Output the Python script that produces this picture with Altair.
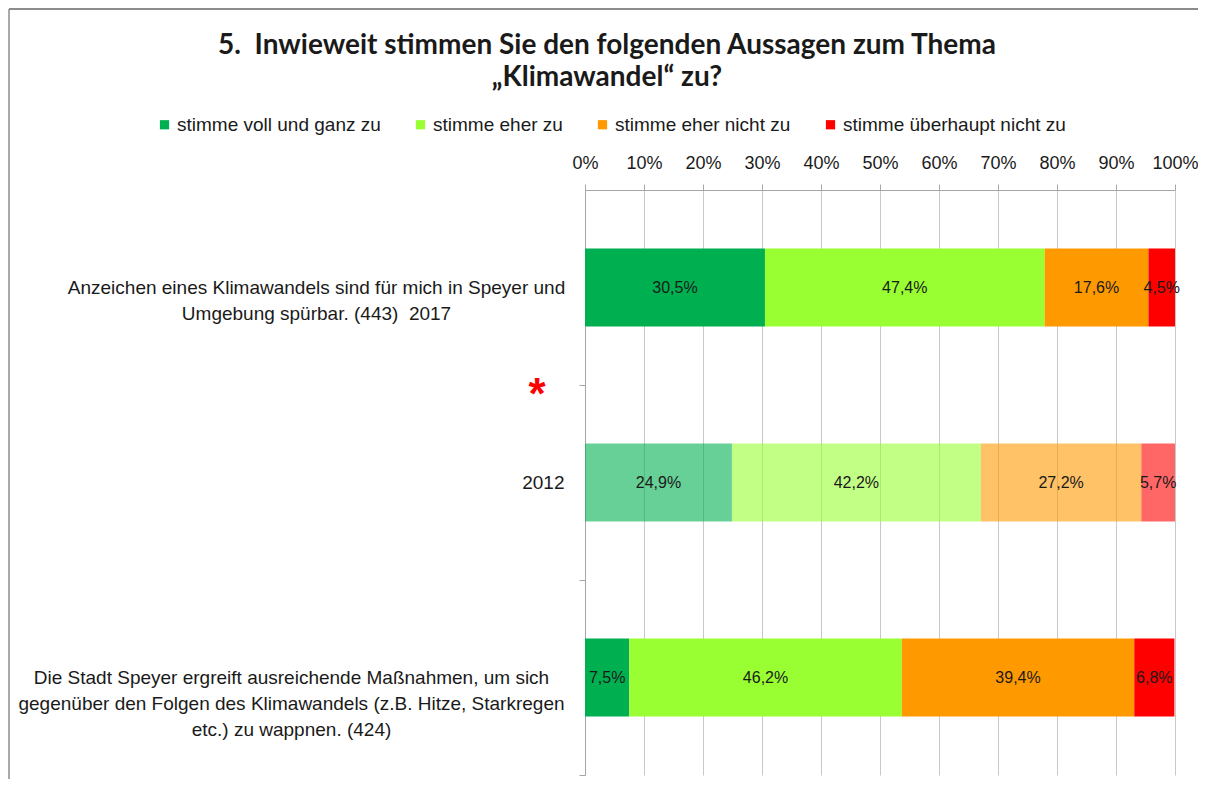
import altair as alt
import pandas as pd

title_lines = ["5.\u00a0 Inwieweit stimmen Sie den folgenden Aussagen zum Thema", "„Klimawandel“ zu?"]
categories = [
    "Anzeichen eines Klimawandels sind für mich in Speyer und\nUmgebung spürbar. (443)\u00a0 2017",
    "2012",
    "Die Stadt Speyer ergreift ausreichende Maßnahmen, um sich\ngegenüber den Folgen des Klimawandels (z.B. Hitze, Starkregen\netc.) zu wappnen. (424)",
]
series = [
    "stimme voll und ganz zu",
    "stimme eher zu",
    "stimme eher nicht zu",
    "stimme überhaupt nicht zu",
]
values_2017 = [30.5, 47.4, 17.6, 4.5]
values_2012 = [24.9, 42.2, 27.2, 5.7]
values_massnahmen = [7.5, 46.2, 39.4, 6.8]
colors = ["#00B050", "#99FF33", "#FF9900", "#FF0000"]

rows = []
for cat, vals, op in zip(categories, [values_2017, values_2012, values_massnahmen], [1.0, 0.6, 1.0]):
    for i, (s, v) in enumerate(zip(series, vals)):
        rows.append({
            "Kategorie": cat,
            "Antwort": s,
            "Wert": v,
            "Reihenfolge": i,
            "Label": f"{v:.1f}%".replace(".", ","),
            "Deckkraft": op,
        })
df = pd.DataFrame(rows)

FONT = "Liberation Sans"
TXT = "#1a1a1a"
GRAY = "#A6A6A6"

y_enc = alt.Y(
    "Kategorie:N",
    sort=categories,
    scale=alt.Scale(paddingInner=0.6, paddingOuter=0.3),
    axis=alt.Axis(
        title=None,
        labelExpr="split(datum.label, '\\n')",
        labelFont=FONT,
        labelFontSize=19,
        labelColor=TXT,
        labelLimit=700,
        labelLineHeight=26,
        labelAlign={"condition": {"test": "datum.value == '2012'", "value": "right"}, "value": "center"},
        labelPadding={
            "condition": [
                {"test": "datum.value == '2012'", "value": 15},
                {"test": "indexof(datum.value, 'Stadt') >= 0", "value": 288},
            ],
            "value": 263,
        },
        tickOffset=97.5,
        labelOffset=-97.5,
        tickSize=6,
        tickColor=GRAY,
        domainColor=GRAY,
        grid=False,
    ),
)

x_enc = alt.X(
    "Wert:Q",
    stack="zero",
    scale=alt.Scale(domain=[0, 100], nice=False),
    axis=alt.Axis(
        orient="top",
        title=None,
        values=list(range(0, 101, 10)),
        labelExpr="datum.value + '%'",
        labelFont=FONT,
        labelFontSize=18,
        labelColor=TXT,
        labelPadding=12,
        tickSize=6,
        tickColor=GRAY,
        domainColor=GRAY,
        grid=True,
        gridColor="#C8C8C8",
        labelFlush=False,
    ),
)

base = alt.Chart(df)

bars = base.mark_bar(size=78).encode(
    x=x_enc,
    y=y_enc,
    color=alt.Color(
        "Antwort:N",
        sort=series,
        scale=alt.Scale(domain=series, range=colors),
        legend=alt.Legend(
            title=None,
            orient="none",
            direction="horizontal",
            legendX=-430,
            legendY=-75,
            symbolType="square",
            symbolSize=85,
            symbolStrokeWidth=0,
            labelFont=FONT,
            labelFontSize=19,
            labelColor=TXT,
            labelLimit=400,
            columnPadding=30,
            labelOffset=3,
        ),
    ),
    opacity=alt.Opacity("Deckkraft:Q", scale=None, legend=None),
    order=alt.Order("Reihenfolge:Q"),
)

labels = base.mark_text(font=FONT, fontSize=16, color=TXT).encode(
    x=alt.X("Wert:Q", stack="zero", bandPosition=0.5),
    y=alt.Y("Kategorie:N", sort=categories),
    text="Label:N",
    order=alt.Order("Reihenfolge:Q"),
)

star = alt.Chart(pd.DataFrame({"t": ["*"]})).mark_text(
    color="#FF0000", fontSize=44, fontWeight="bold", font="Liberation Sans", baseline="middle"
).encode(text="t:N", x=alt.value(-48), y=alt.value(206))

title = alt.Chart(pd.DataFrame({"t": [title_lines]})).mark_text(
    font="Lato", fontSize=28, fontWeight="bold", color=TXT, baseline="middle", align="center", lineHeight=32
).encode(text="t", x=alt.value(22), y=alt.value(-144))

frame_top = alt.Chart(pd.DataFrame({"f": [0]})).mark_rule(color="#8C8C8C", strokeWidth=2).encode(
    x=alt.value(-576), x2=alt.value(640), y=alt.value(-181)
)
frame_left = alt.Chart(pd.DataFrame({"f": [0]})).mark_rule(color="#8C8C8C", strokeWidth=1.5).encode(
    x=alt.value(-576), y=alt.value(-181), y2=alt.value(600)
)

chart = alt.layer(frame_top, frame_left, bars, labels, star, title).properties(
    width=590,
    height=585,
    padding={"left": 577, "top": 182, "right": 23, "bottom": 4},
    autosize=alt.AutoSizeParams(type="none"),
).configure_view(stroke=None)

chart.save("out.html", embed_options={"renderer": "svg", "actions": False})
